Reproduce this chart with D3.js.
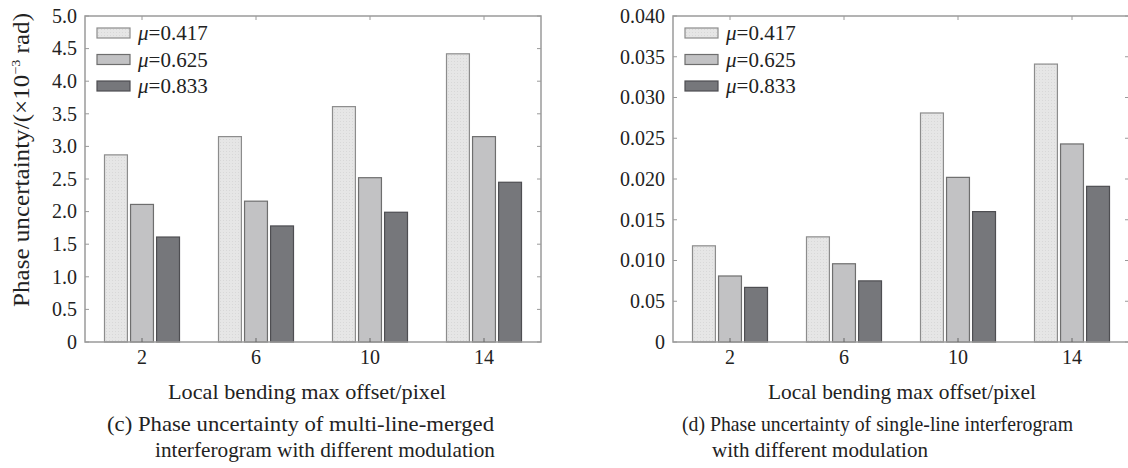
<!DOCTYPE html>
<html>
<head>
<meta charset="utf-8">
<script src="https://cdn.jsdelivr.net/npm/d3@7"></script>
<style>
  body { margin: 0; background: #fff; }
  svg text { font-family: "Liberation Serif", "Times New Roman", serif; fill: #222; }
</style>
</head>
<body>
<svg width="1128" height="468"></svg>
<script>
// categories on the x axis (local bending max offset, pixel)
var offsets = ["2", "6", "10", "14"];
// modulation values, one series each
var mus = ["0.417", "0.625", "0.833"];

// (c) multi-line-merged interferogram, x10^-3 rad
var mergedLow  = [2.87, 3.15, 3.61, 4.42];
var mergedMid  = [2.11, 2.16, 2.52, 3.15];
var mergedHigh = [1.61, 1.78, 1.99, 2.45];

// (d) single-line interferogram
var singleLow  = [0.0118, 0.0129, 0.0281, 0.0341];
var singleMid  = [0.0081, 0.0096, 0.0202, 0.0243];
var singleHigh = [0.0067, 0.0075, 0.0160, 0.0191];

// tick labels (the original prints "0.05" for 0.005)
var leftTicks = ["0", "0.5", "1.0", "1.5", "2.0", "2.5", "3.0", "3.5", "4.0", "4.5", "5.0"];
var rightTicks = ["0", "0.05", "0.010", "0.015", "0.020", "0.025", "0.030", "0.035", "0.040"];

var fills = ["#e6e6e6", "#c2c2c4", "#76777b"];
var strokes = ["#8c8c8c", "#6e6e6e", "#4e4e52"];

var svg = d3.select("svg");

// stipple for the lightest bars
var defs = svg.append("defs");
var pat = defs.append("pattern").attr("id", "dots").attr("width", 3).attr("height", 3)
  .attr("patternUnits", "userSpaceOnUse");
pat.append("rect").attr("width", 3).attr("height", 3).attr("fill", fills[0]);
pat.append("rect").attr("x", 1).attr("y", 1).attr("width", 1).attr("height", 1).attr("fill", "#d8d8d8");

function panel(opt) {
  var g = svg.append("g");
  var top = 16, bottom = 342;

  var x0 = d3.scaleBand().domain(offsets).range([opt.left, opt.right]).padding(0);
  var x1 = d3.scaleBand().domain(mus).range([0, 75]).paddingInner(0.12);
  var y = d3.scaleLinear().domain([0, opt.max]).range([bottom, top]);

  var series = opt.values;
  var rows = [];
  series.forEach(function(vals, s) {
    vals.forEach(function(v, i) { rows.push({ s: s, cat: offsets[i], v: v }); });
  });

  var off = (x0.bandwidth() - 75) / 2;
  g.selectAll("rect.bar").data(rows).enter().append("rect")
    .attr("class", "bar")
    .attr("x", function(d) { return x0(d.cat) + off + x1(mus[d.s]); })
    .attr("y", function(d) { return y(d.v); })
    .attr("width", x1.bandwidth())
    .attr("height", function(d) { return bottom - y(d.v); })
    .attr("fill", function(d) { return d.s === 0 ? "url(#dots)" : fills[d.s]; })
    .attr("stroke", function(d) { return strokes[d.s]; })
    .attr("stroke-width", 1.2);

  // box axes
  var axisColor = "#9a9a9a";
  g.append("rect").attr("x", opt.left).attr("y", top)
    .attr("width", opt.right - opt.left).attr("height", bottom - top)
    .attr("fill", "none").attr("stroke", axisColor).attr("stroke-width", 1.5);

  var yTicks = d3.range(opt.ticks.length).map(function(i) { return i * opt.step; });
  // inward ticks left and right
  g.selectAll("line.yl").data(yTicks).enter().append("line")
    .attr("x1", opt.left).attr("x2", opt.left + 4)
    .attr("y1", function(d) { return y(d); }).attr("y2", function(d) { return y(d); })
    .attr("stroke", axisColor);
  g.selectAll("line.yr").data(yTicks).enter().append("line")
    .attr("x1", opt.right).attr("x2", opt.right - 4)
    .attr("y1", function(d) { return y(d); }).attr("y2", function(d) { return y(d); })
    .attr("stroke", axisColor);
  // inward ticks top and bottom
  g.selectAll("line.xt").data(offsets).enter().append("line")
    .attr("x1", function(d) { return x0(d) + x0.bandwidth() / 2; })
    .attr("x2", function(d) { return x0(d) + x0.bandwidth() / 2; })
    .attr("y1", top).attr("y2", top + 4).attr("stroke", axisColor);
  g.selectAll("line.xb").data(offsets).enter().append("line")
    .attr("x1", function(d) { return x0(d) + x0.bandwidth() / 2; })
    .attr("x2", function(d) { return x0(d) + x0.bandwidth() / 2; })
    .attr("y1", bottom).attr("y2", bottom - 4).attr("stroke", "#666");

  g.selectAll("text.yt").data(yTicks).enter().append("text")
    .attr("x", opt.left - 8).attr("y", function(d) { return y(d); })
    .attr("dy", "0.34em").attr("text-anchor", "end").attr("font-size", 20)
    .text(function(d, i) { return opt.ticks[i]; });

  g.selectAll("text.xt").data(offsets).enter().append("text")
    .attr("x", function(d) { return x0(d) + x0.bandwidth() / 2; })
    .attr("y", 364).attr("text-anchor", "middle").attr("font-size", 20)
    .text(function(d) { return d; });

  // legend
  var leg = g.append("g").attr("transform", "translate(" + (opt.left + 12) + ",28)");
  mus.forEach(function(m, i) {
    leg.append("rect").attr("x", 0).attr("y", i * 26.5).attr("width", 33).attr("height", 10)
      .attr("fill", i === 0 ? "url(#dots)" : fills[i]).attr("stroke", strokes[i]).attr("stroke-width", 1.2);
    var t = leg.append("text").attr("x", 41).attr("y", i * 26.5 + 12).attr("font-size", 21);
    t.append("tspan").attr("font-style", "italic").text("μ");
    t.append("tspan").text("=" + m);
  });

  g.append("text").attr("x", opt.xlab[0]).attr("y", 399).attr("font-size", 22)
    .attr("textLength", opt.xlab[1] - opt.xlab[0]).attr("lengthAdjust", "spacingAndGlyphs")
    .text("Local bending max offset/pixel");
  opt.caption.forEach(function(c, i) {
    g.append("text").attr("x", c.x0).attr("y", 431 + i * 26).attr("font-size", 22)
      .attr("textLength", c.x1 - c.x0).attr("lengthAdjust", "spacingAndGlyphs")
      .text(c.text);
  });
}

panel({
  left: 85, right: 541, max: 5, step: 0.5, ticks: leftTicks,
  values: [mergedLow, mergedMid, mergedHigh],
  xlab: [168, 446],
  caption: [
    { text: "(c) Phase uncertainty of multi-line-merged", x0: 107, x1: 494 },
    { text: "interferogram with different modulation", x0: 155, x1: 495 }
  ]
});

panel({
  left: 673, right: 1129, max: 0.04, step: 0.005, ticks: rightTicks,
  values: [singleLow, singleMid, singleHigh],
  xlab: [768, 1036],
  caption: [
    { text: "(d) Phase uncertainty of single-line interferogram", x0: 682, x1: 1073 },
    { text: "with different modulation", x0: 712, x1: 928 }
  ]
});

// y axis title of panel (c)
var yl = svg.append("text")
  .attr("transform", "translate(29,160) rotate(-90)")
  .attr("text-anchor", "middle").attr("font-size", 23)
  .attr("textLength", 294).attr("lengthAdjust", "spacingAndGlyphs");
yl.append("tspan").text("Phase uncertainty/(×10");
yl.append("tspan").attr("font-size", 13).attr("dy", -9).text("−3");
yl.append("tspan").attr("dy", 9).text(" rad)");
</script>
</body>
</html>
